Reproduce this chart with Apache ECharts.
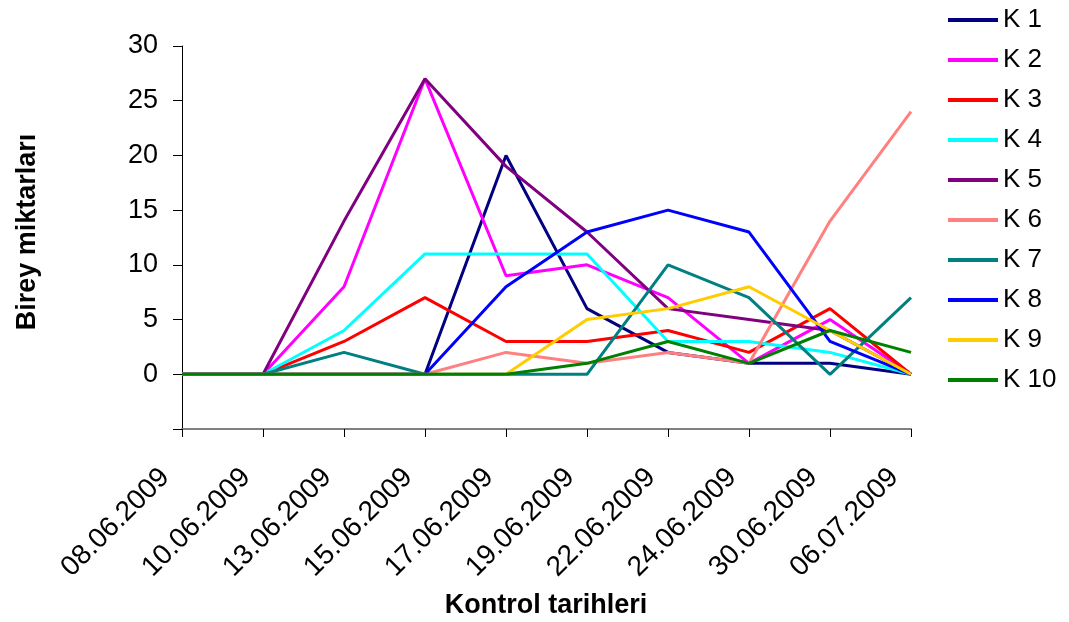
<!DOCTYPE html>
<html>
<head>
<meta charset="utf-8">
<script src="https://cdn.jsdelivr.net/npm/echarts@6/dist/echarts.min.js"></script>
<style>html,body{margin:0;padding:0;background:#fff;}#c{width:1069px;height:622px;}</style>
</head>
<body>
<div id="c"></div>
<script>
const categories = ['08.06.2009','10.06.2009','13.06.2009','15.06.2009','17.06.2009','19.06.2009','22.06.2009','24.06.2009','30.06.2009','06.07.2009'];
const seriesNames = ['K 1','K 2','K 3','K 4','K 5','K 6','K 7','K 8','K 9','K 10'];
const k1  = [0,0,0,0,20,6,2,1,1,0];
const k2  = [0,0,8,27,9,10,7,1,5,0];
const k3  = [0,0,3,7,3,3,4,2,6,0];
const k4  = [0,0,4,11,11,11,3,3,2,0];
const k5  = [0,0,14,27,19,13,6,5,4,0];
const k6  = [0,0,0,0,2,1,2,1,14,24];
const k7  = [0,0,2,0,0,0,10,7,0,7];
const k8  = [0,0,0,0,8,13,15,13,3,0];
const k9  = [0,0,0,0,0,5,6,8,4,0];
const k10 = [0,0,0,0,0,1,3,1,4,2];
const seriesValues = [k1,k2,k3,k4,k5,k6,k7,k8,k9,k10];
const colors = ['#000080','#FF00FF','#FF0000','#00FFFF','#800080','#FF8080','#008080','#0000FF','#FFCC00','#008000'];

const chart = echarts.init(document.getElementById('c'), null, {renderer:'canvas'});
const font = 'Arial, "Liberation Sans", sans-serif';
chart.setOption({
  animation: false,
  backgroundColor: '#ffffff',
  textStyle: {fontFamily: font},
  grid: {left: 182, right: 158, top: 46, bottom: 193, containLabel: false},
  graphic: [
    {type: 'text', x: 28, y: 232, rotation: Math.PI / 2,
      style: {text: 'Birey miktarları', fill: '#000', font: 'bold 27px ' + font, textAlign: 'center', textVerticalAlign: 'middle'}},
    {type: 'text', x: 546, y: 606,
      style: {text: 'Kontrol tarihleri', fill: '#000', font: 'bold 27px ' + font, textAlign: 'center', textVerticalAlign: 'middle'}}
  ],
  legend: {
    orient: 'vertical', left: 943, top: 2,
    icon: 'rect', itemWidth: 50, itemHeight: 4, itemGap: 14,
    textStyle: {fontSize: 26, color: '#000', fontFamily: font, lineHeight: 26},
    data: seriesNames
  },
  xAxis: {
    type: 'category', data: categories, boundaryGap: false,
    axisLine: {onZero: false, lineStyle: {color: '#808080', width: 2}},
    axisTick: {show: true, alignWithLabel: true, length: 8, lineStyle: {color: '#000', width: 1}},
    axisLabel: {rotate: 45, fontSize: 28, color: '#000', margin: 27, interval: 0, fontFamily: font, padding: [0, 24, 0, 0]},
    splitLine: {show: false}
  },
  yAxis: {
    type: 'value', min: -5, max: 30, interval: 5,
    axisLine: {show: true, lineStyle: {color: '#000', width: 1}},
    axisTick: {show: true, length: 9, lineStyle: {color: '#000', width: 1}},
    axisLabel: {fontSize: 27, color: '#000', margin: 24, fontFamily: font,
      formatter: v => (v < 0 ? '' : String(v))},
    splitLine: {show: false}
  },
  series: seriesNames.map((n, i) => ({
    name: n, type: 'line', data: seriesValues[i],
    showSymbol: false, symbol: 'none',
    lineStyle: {color: colors[i], width: 3},
    itemStyle: {color: colors[i]},
    emphasis: {disabled: true}
  }))
});
</script>
</body>
</html>
